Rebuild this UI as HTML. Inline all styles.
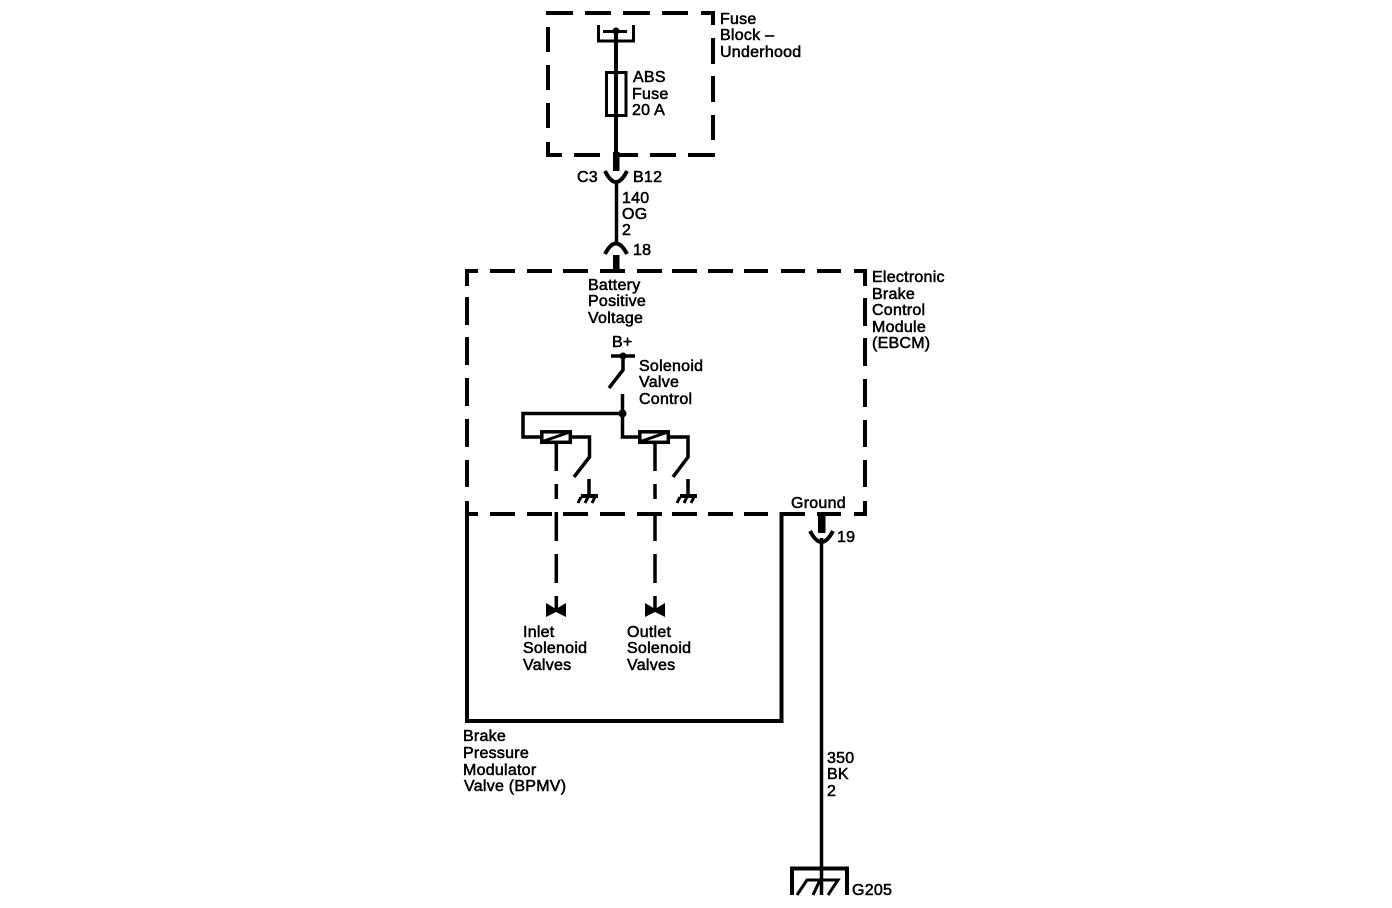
<!DOCTYPE html>
<html><head><meta charset="utf-8"><style>
html,body{margin:0;padding:0;background:#fff}
svg{display:block}
text{font-family:"Liberation Sans",sans-serif;font-size:16px;letter-spacing:.25px;fill:#000;stroke:#000;stroke-width:.55}
.t{stroke:#000;stroke-width:4;fill:none}
.m{stroke:#000;stroke-width:3.500;fill:none}
.s{stroke:#000;stroke-width:3;fill:none}
</style></head><body>
<svg width="1392" height="908" viewBox="0 0 1392 908" xmlns="http://www.w3.org/2000/svg">
<!-- fuse block -->
<path class="t" d="M546 13H573M585 13H611M623 13H650M662 13H688M701 13H715"/>
<path class="t" d="M713 11V25M713 38V64M713 76V102M713 115V140"/>
<path class="t" d="M548 27V52M548 65V90M548 103V128M548 142V157"/>
<path class="t" d="M546 155H562M574 155H600M613 155H638M650 155H676M688 155H715"/>
<path class="s" d="M598.500 25V41H633.500V25"/>
<path class="s" d="M603 31.500H627"/>
<circle cx="616" cy="31" r="3.500"/>
<path class="t" d="M616 31V155"/>
<rect x="606.500" y="72.500" width="19.500" height="43" class="s"/>
<path d="M613 152h6.500v19h-6.500z"/>
<path class="t" d="M605 171Q616 193 627 171"/>
<path class="m" d="M616.500 180V245"/>
<path class="t" d="M605 254Q616 233 627 254"/>
<path d="M613 255h6.500v17h-6.500z"/>
<!-- EBCM -->
<path class="t" d="M465 271H478M490 271H515M527 271H552M563 271H588M600 271H625M637 271H662M672 271H697M708 271H733M744 271H768M781 271H805M817 271H841M854 271H867"/>
<path class="t" d="M865 269V286M865 298V326M865 338V366M865 379V407M865 420V447M865 460V487M865 501V516"/>
<path class="t" d="M467 269V286M467 297V325M467 337V365M467 378V406M467 419V447M467 460V487M467 501V721H781.500V512"/>
<path class="t" d="M467 514H478M490 514H515M527 514H552M563 514H588M600 514H625M637 514H662M672 514H697M708 514H733M744 514H768M781 514H805M817 514H841M854 514H867"/>
<!-- switch -->
<path class="m" d="M611 356H635"/>
<circle cx="623" cy="356" r="3.500"/>
<path class="m" d="M623 356V370L609 388"/>
<path class="m" d="M622.500 394V437H640"/>
<circle cx="622.500" cy="413.500" r="4"/>
<path class="m" d="M622 413.500H523V437H542"/>
<rect x="541.800" y="431.800" width="28.500" height="10.500" class="m"/>
<path class="s" d="M541 442L570 432"/>
<rect x="639.800" y="431.800" width="28.500" height="10.500" class="m"/>
<path class="s" d="M639 442L668 432"/>
<path class="m" d="M570 437H589.500V457L574 477"/>
<path class="m" d="M668 437H688V457L673 477"/>
<path class="m" d="M589 479V497"/>
<path class="t" d="M581 496H598"/>
<path class="s" d="M581 497L578 503M588 497L585 503M595 497L592 503"/>
<path class="m" d="M688 479V497"/>
<path class="t" d="M680 496H697"/>
<path class="s" d="M680 497L677 503M687 497L684 503M694 497L691 503"/>
<path class="m" d="M556.300 443V471M556.300 484V499M556.300 512V541M556.300 554V583M556.300 596V612"/>
<path class="m" d="M655 443V471M655 484V499M655 512V541M655 554V583M655 596V612"/>
<path d="M546 603L556 609L566 603V617L556 612L546 617Z"/>
<path d="M645 603L655 609L665 603V617L655 612L645 617Z"/>
<!-- ground -->
<path d="M818 514h7.500v19h-7.500z"/>
<path class="t" d="M810 531Q821.500 553 833 531"/>
<path class="m" d="M821.500 538V895"/>
<path class="t" d="M792 895V868.500H847V895"/>
<path class="s" d="M797 895L807 880H838L828 895M813 895L820 880"/>
<!-- labels -->
<text x="720" y="24">Fuse</text><text x="720" y="40">Block –</text><text x="720" y="57">Underhood</text>
<text x="633" y="82">ABS</text><text x="632" y="99">Fuse</text><text x="632" y="115">20 A</text>
<text x="577" y="182">C3</text><text x="633" y="182">B12</text>
<text x="622" y="203">140</text><text x="622" y="219">OG</text><text x="622" y="235">2</text>
<text x="633" y="255">18</text>
<text x="588" y="290">Battery</text><text x="588" y="306">Positive</text><text x="588" y="323">Voltage</text>
<text x="872" y="282">Electronic</text><text x="872" y="299">Brake</text><text x="872" y="315">Control</text><text x="872" y="332">Module</text><text x="872" y="348">(EBCM)</text>
<text x="612" y="347">B+</text>
<text x="639" y="371">Solenoid</text><text x="639" y="387">Valve</text><text x="639" y="404">Control</text>
<text x="791" y="508">Ground</text><text x="837" y="542">19</text>
<text x="523" y="637">Inlet</text><text x="523" y="653">Solenoid</text><text x="523" y="670">Valves</text>
<text x="627" y="637">Outlet</text><text x="627" y="653">Solenoid</text><text x="627" y="670">Valves</text>
<text x="463" y="741">Brake</text><text x="463" y="758">Pressure</text><text x="463" y="775">Modulator</text><text x="464" y="791">Valve (BPMV)</text>
<text x="827" y="763">350</text><text x="827" y="779">BK</text><text x="827" y="796">2</text>
<text x="852" y="895">G205</text>
</svg>
</body></html>
